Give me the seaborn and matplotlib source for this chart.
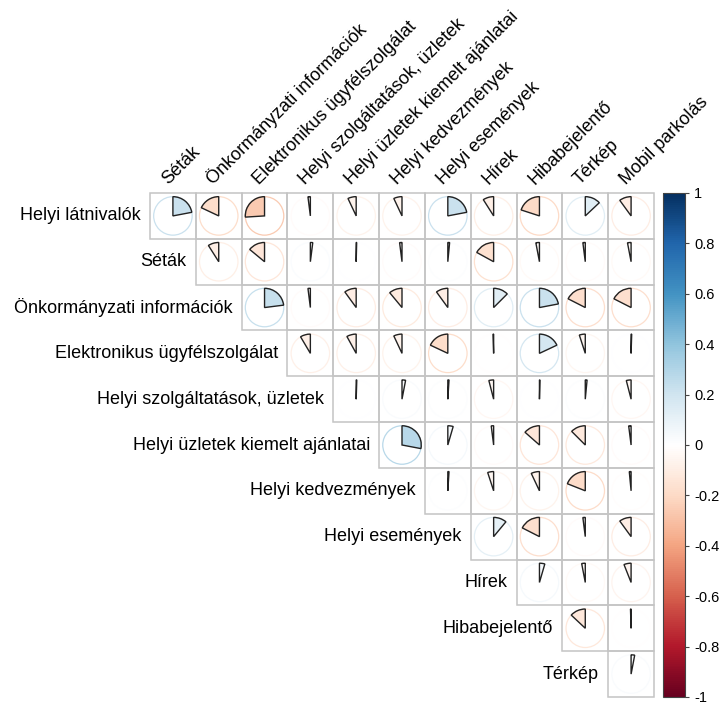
"""
Matriz de correlación tipo "pie" (triángulo superior) hecha con seaborn + matplotlib
"""
import numpy as np
import pandas as pd
import matplotlib
matplotlib.use("Agg")
import matplotlib.pyplot as plt
from matplotlib.patches import Wedge, Circle, Rectangle
from matplotlib.colors import LinearSegmentedColormap, ListedColormap, Normalize
from matplotlib.cm import ScalarMappable
import seaborn as sns

########################
# DATOS
########################
sorok = ["Helyi látnivalók", "Séták", "Önkormányzati információk",
         "Elektronikus ügyfélszolgálat", "Helyi szolgáltatások, üzletek",
         "Helyi üzletek kiemelt ajánlatai", "Helyi kedvezmények",
         "Helyi események", "Hírek", "Hibabejelentő", "Térkép"]
oszlopok = ["Séták", "Önkormányzati információk", "Elektronikus ügyfélszolgálat",
            "Helyi szolgáltatások, üzletek", "Helyi üzletek kiemelt ajánlatai",
            "Helyi kedvezmények", "Helyi események", "Hírek", "Hibabejelentő",
            "Térkép", "Mobil parkolás"]

# valores de cada fila, desde la diagonal hacia la derecha
r_latnivalok = [0.22, -0.18, -0.26, -0.02, -0.07, -0.07, 0.22, -0.09, -0.20, 0.13, -0.10]
r_setak = [-0.09, -0.14, 0.02, 0.004, -0.02, 0.015, -0.17, -0.03, -0.02, -0.03]
r_onkorm = [0.23, -0.02, -0.10, -0.11, -0.10, 0.125, 0.22, -0.175, -0.175]
r_elektr = [-0.085, -0.08, -0.07, -0.18, -0.005, 0.18, -0.05, 0.005]
r_szolg = [0.005, 0.03, 0.01, -0.04, 0.004, 0.015, -0.04]
r_uzletek = [0.28, 0.045, -0.02, -0.135, -0.125, -0.02]
r_kedvezm = [0.01, -0.05, -0.07, -0.19, -0.015]
r_esemenyek = [0.11, -0.175, -0.02, -0.10]
r_hirek = [0.045, -0.03, -0.06]
r_hibabej = [-0.13, -0.005]
r_terkep = [0.03]

filas = [r_latnivalok, r_setak, r_onkorm, r_elektr, r_szolg, r_uzletek,
         r_kedvezm, r_esemenyek, r_hirek, r_hibabej, r_terkep]

n = len(sorok)
mat = np.full((n, n), np.nan)
for i, fila in enumerate(filas):
    mat[i, i:] = fila
df = pd.DataFrame(mat, index=sorok, columns=oszlopok)
mask = df.isna()

# paleta RdBu como la de corrplot
cmap = LinearSegmentedColormap.from_list("rdbu", ["#67001F", "#B2182B", "#D6604D", "#F4A582",
                                                  "#FDDBC7", "#FFFFFF", "#D1E5F0", "#92C5DE",
                                                  "#4393C3", "#2166AC", "#053061"])
norm = Normalize(-1, 1)

########################
# FIGURA
########################
plt.rcParams["font.family"] = ["Liberation Sans", "DejaVu Sans"]
fig = plt.figure(figsize=(7.19, 7.04), dpi=100)
ax = fig.add_axes([150 / 719, 7 / 704, 504 / 719, 504 / 704])

# celdas blancas con seaborn
sns.heatmap(df, mask=mask, cmap=ListedColormap(["white"]), vmin=-1, vmax=1,
            linewidths=0, cbar=False, square=True, ax=ax)
ax.set_xticks([])
ax.set_yticks([])
ax.set_xlabel("")
ax.set_ylabel("")

radio = 0.42
for i in range(n):
    for j in range(i, n):
        # borde gris de la celda
        ax.add_patch(Rectangle((j, i), 1, 1, facecolor="none", edgecolor="#C4C4C4",
                               lw=1.1, clip_on=False))
for i in range(n):
    for j in range(i, n):
        v = df.iloc[i, j]
        color = cmap(norm(v))
        cx, cy = j + 0.5, i + 0.5
        ax.add_patch(Circle((cx, cy), radio, facecolor="none", edgecolor=color, lw=0.9))
        ang = 360 * abs(v)
        if v >= 0:
            t1, t2 = 270, 270 + ang
        else:
            t1, t2 = 270 - ang, 270
        ax.add_patch(Wedge((cx, cy), radio, t1, t2, facecolor=color,
                           edgecolor="#222222", lw=1.0))

# etiquetas de filas (escalonadas) y columnas (45 grados)
for i, nombre in enumerate(sorok):
    ax.text(i - 0.2, i + 0.5, nombre, ha="right", va="center", fontsize=13)
for j, nombre in enumerate(oszlopok):
    ax.text(j + 0.45, -0.12, nombre, ha="left", va="bottom", rotation=45,
            rotation_mode="anchor", fontsize=13)

# barra de colores
ticks = np.round(np.arange(-1, 1.01, 0.2), 1)
cax = fig.add_axes([663 / 719, 7 / 704, 22 / 719, 504 / 704])
cb = fig.colorbar(ScalarMappable(norm=norm, cmap=cmap), cax=cax, ticks=ticks)
cb.ax.set_yticklabels([f"{abs(t) if t == 0 else t:g}" for t in ticks])
cb.ax.tick_params(labelsize=10.5, length=3, width=0.8, color="#444444")
cb.outline.set_edgecolor("#444444")
cb.outline.set_linewidth(0.8)

plt.savefig("out.png", dpi=100)
